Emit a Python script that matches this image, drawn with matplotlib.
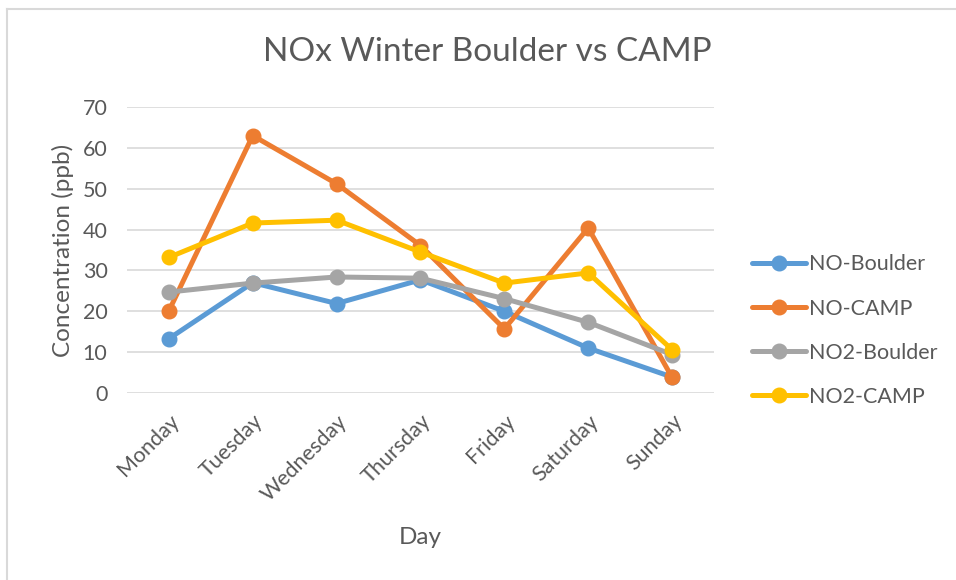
import matplotlib
matplotlib.use("Agg")
import matplotlib.pyplot as plt
from matplotlib.lines import Line2D

plt.rcParams["font.family"] = ["Lato", "DejaVu Sans"]

days = ["Monday", "Tuesday", "Wednesday", "Thursday", "Friday", "Saturday", "Sunday"]
no_boulder = [13.3, 27.0, 21.9, 27.7, 20.0, 11.0, 3.9]
no_camp = [20.1, 63.0, 51.2, 36.1, 15.7, 40.4, 3.8]
no2_boulder = [24.7, 26.9, 28.4, 28.1, 23.1, 17.3, 9.4]
no2_camp = [33.2, 41.6, 42.3, 34.5, 26.9, 29.4, 10.6]

series = [("NO-Boulder", no_boulder, "#5B9BD5"),
          ("NO-CAMP", no_camp, "#ED7D31"),
          ("NO2-Boulder", no2_boulder, "#A5A5A5"),
          ("NO2-CAMP", no2_camp, "#FFC000")]

TXT = "#595959"

fig = plt.figure(figsize=(9.56, 5.80), dpi=100)
ax = fig.add_axes([0.1328, 0.3224, 0.6141, 0.4931])

x = range(len(days))
for name, vals, c in series:
    ax.plot(x, vals, "-o", color=c, lw=3.6, ms=10.5, label=name,
            solid_capstyle="round", solid_joinstyle="round")

ax.set_xlim(-0.5, len(days) - 0.5)
ax.set_ylim(0, 70)
ax.set_yticks(range(0, 71, 10))
ax.yaxis.grid(True, color="#d9d9d9", lw=1.2)
ax.set_axisbelow(True)
for s in ax.spines.values():
    s.set_visible(False)
ax.tick_params(length=0, colors=TXT, labelsize=15.5)
ax.tick_params(axis="y", pad=14)
ax.set_xticks(list(x))
ax.set_xticklabels(days, rotation=45, ha="right", va="top",
                   rotation_mode="anchor", color=TXT)
ax.tick_params(axis="x", pad=13)

ax.set_ylabel("Concentration (ppb)", fontsize=17.5, color=TXT, labelpad=6)
fig.text(0.4393, 0.074, "Day", fontsize=17.5, color=TXT, ha="center", va="center")
fig.text(0.5094, 0.91, "NOx Winter Boulder vs CAMP", fontsize=24, color=TXT,
         ha="center", va="center")

ax.legend(loc="center left", bbox_to_anchor=(0.787, 0.43),
          bbox_transform=fig.transFigure, frameon=False, fontsize=15.5,
          handlelength=2.5, handletextpad=0.15, labelspacing=1.12,
          borderpad=0, borderaxespad=0, labelcolor=TXT)

# chart frame (only top and left edges visible in the crop)
fig.add_artist(Line2D([7 / 956, 7 / 956], [0, 1 - 9 / 580],
                      transform=fig.transFigure, color="#d9d9d9", lw=1.5))
fig.add_artist(Line2D([7 / 956, 1], [1 - 9 / 580, 1 - 9 / 580],
                      transform=fig.transFigure, color="#d9d9d9", lw=1.5))

fig.savefig("out.png", dpi=100)
